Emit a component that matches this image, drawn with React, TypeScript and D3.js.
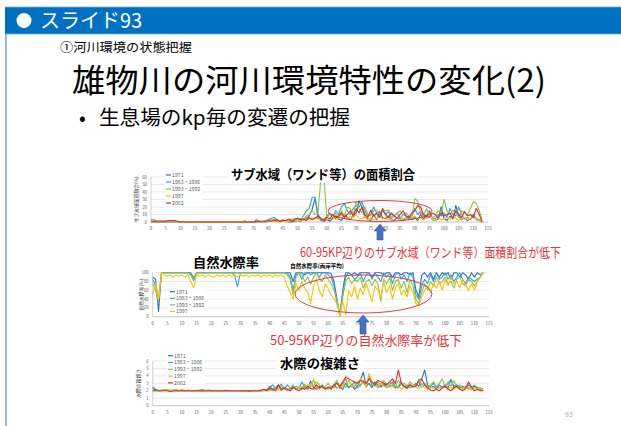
import * as d3 from 'd3';

const FONT = "'Noto Sans CJK JP', 'Noto Sans', sans-serif";

const KP_TICKS = [0, 5, 10, 15, 20, 25, 30, 35, 40, 45, 50, 55, 60, 65, 70, 75, 80, 85, 90, 95, 100, 105, 110, 115];
const SUB_TICKS = [0, 10, 20, 30, 40, 50, 60];
const NAT_TICKS = [0, 20, 40, 60, 80, 100];
const CPX_TICKS = [0, 1, 2, 3, 4, 5, 6];

const YEARS = ['1971', '1983・1986', '1993・1992', '1997', '2002'];
const YEAR_COLORS = ['#2f6fbd', '#2fa3e3', '#8cc63f', '#ffc000', '#e8262a'];

// サブ水域面積割合(%) kp 0..113
const sub1971 = [
  0, 0, 0, 0, 0, 0, 0, 0, 0, 0,
  0, 0, 0, 0, 0, 0, 0, 0, 0, 0,
  0, 0, 0, 0, 0, 0, 0, 0, 0, 0,
  0, 0, 0, 0, 0, 0, 0, 0, 1, 0,
  1, 2, 3, 1, 0, 2, 1, 0, 0, 1,
  2, 1, 3, 5, 8, 17, 32, 5, 2, 1,
  3, 1, 5, 8, 4, 2, 10, 6, 3, 8,
  12, 28, 20, 6, 4, 2, 10, 3, 14, 6,
  4, 8, 3, 2, 6, 4, 2, 5, 8, 3,
  6, 2, 10, 4, 8, 15, 3, 2, 4, 20,
  5, 2, 8, 4, 22, 8, 3, 6, 2, 4,
  10, 3, 2, 0,
];
const sub1983 = [
  3, 3, 1, 1, 1, 1, 1, 1, 1, 0,
  0, 0, 0, 0, 0, 0, 0, 0, 0, 0,
  0, 0, 0, 0, 0, 0, 0, 0, 0, 0,
  0, 0, 0, 0, 0, 0, 3, 1, 1, 2,
  3, 5, 6, 3, 1, 3, 1, 2, 4, 2,
  5, 3, 8, 15, 18, 33, 33, 10, 5, 3,
  8, 12, 6, 15, 10, 20, 25, 15, 10, 18,
  22, 20, 27, 15, 8, 10, 20, 12, 6, 15,
  10, 14, 6, 8, 12, 5, 10, 8, 4, 8,
  18, 10, 14, 8, 5, 10, 6, 4, 10, 8,
  12, 6, 18, 10, 8, 20, 10, 4, 6, 3,
  8, 5, 3, 0,
];
const sub1993 = [
  1, 1, 1, 1, 1, 1, 1, 1, 1, 0,
  0, 0, 0, 0, 0, 0, 0, 0, 0, 0,
  0, 0, 0, 0, 0, 0, 0, 0, 0, 0,
  0, 0, 2, 0, 0, 0, 1, 1, 1, 2,
  2, 3, 2, 2, 1, 3, 1, 3, 2, 5,
  3, 5, 4, 8, 10, 15, 10, 12, 60, 58,
  6, 10, 8, 12, 5, 15, 8, 20, 18, 10,
  27, 18, 12, 20, 10, 8, 15, 16, 10, 16,
  15, 16, 10, 8, 12, 15, 10, 12, 8, 6,
  31, 28, 12, 8, 18, 10, 6, 8, 15, 10,
  30, 15, 10, 16, 12, 6, 15, 12, 10, 18,
  27, 25, 15, 3,
];
const sub1997 = [
  1, 1, 1, 1, 1, 1, 2, 2, 2, 0,
  0, 0, 0, 0, 0, 0, 0, 0, 0, 0,
  0, 0, 0, 0, 0, 0, 0, 0, 0, 0,
  0, 0, 0, 0, 0, 0, 1, 0, 1, 1,
  1, 2, 1, 0, 1, 2, 1, 1, 3, 2,
  2, 3, 2, 4, 3, 5, 6, 4, 3, 5,
  2, 5, 8, 3, 6, 10, 5, 4, 8, 6,
  10, 5, 4, 8, 2, 6, 3, 5, 8, 4,
  6, 3, 4, 8, 5, 2, 6, 4, 3, 5,
  8, 4, 6, 3, 5, 10, 4, 2, 6, 3,
  4, 6, 3, 8, 5, 2, 4, 6, 3, 5,
  6, 4, 2, 0,
];
const sub2002 = [
  1, 1, 1, 1, 1, 1, 2, 2, 2, 1,
  0, 0, 0, 0, 0, 0, 0, 0, 0, 0,
  0, 0, 0, 0, 0, 0, 0, 0, 0, 0,
  0, 0, 0, 0, 0, 0, 1, 1, 0, 1,
  2, 1, 2, 3, 1, 2, 2, 4, 1, 3,
  5, 3, 4, 2, 6, 3, 5, 8, 4, 2,
  6, 4, 10, 5, 8, 12, 6, 10, 15, 8,
  18, 12, 20, 10, 6, 16, 8, 12, 6, 18,
  10, 6, 12, 8, 5, 10, 15, 8, 6, 12,
  15, 22, 20, 10, 8, 6, 12, 10, 5, 12,
  8, 10, 12, 5, 15, 10, 6, 14, 8, 10,
  6, 18, 10, 0,
];

// 自然水際率(%) kp 0..113
const nat1971 = [
  90, 85, 12, 100, 100, 100, 100, 100, 100, 100,
  100, 100, 100, 100, 88, 100, 100, 100, 100, 100,
  100, 100, 100, 100, 100, 100, 100, 100, 100, 100,
  100, 100, 100, 100, 100, 100, 100, 100, 100, 100,
  100, 100, 100, 100, 100, 100, 100, 100, 80, 100,
  100, 100, 95, 100, 100, 100, 100, 100, 100, 100,
  100, 98, 80, 40, 2, 60, 100, 100, 95, 100,
  95, 100, 100, 100, 100, 90, 100, 100, 100, 95,
  100, 100, 90, 100, 100, 95, 100, 100, 95, 100,
  60, 45, 95, 100, 90, 100, 85, 100, 90, 100,
  95, 100, 85, 100, 100, 90, 100, 95, 85, 100,
  90, 100, 95, 100,
];
const nat1983 = [
  85, 70, 40, 100, 100, 100, 100, 100, 100, 100,
  100, 100, 100, 95, 82, 100, 100, 100, 100, 100,
  100, 100, 100, 100, 100, 100, 100, 100, 95, 68,
  100, 100, 100, 100, 100, 100, 100, 100, 100, 100,
  100, 100, 100, 100, 100, 100, 100, 90, 60, 95,
  100, 85, 100, 100, 95, 100, 100, 90, 100, 100,
  95, 90, 70, 30, 5, 50, 90, 100, 95, 85,
  90, 100, 80, 95, 100, 85, 100, 90, 80, 100,
  90, 100, 75, 95, 100, 85, 95, 80, 100, 90,
  50, 40, 70, 85, 75, 95, 80, 100, 85, 90,
  100, 85, 95, 80, 90, 100, 85, 75, 90, 85,
  80, 85, 90, 100,
];
const nat1993 = [
  75, 60, 35, 100, 100, 100, 100, 100, 100, 100,
  100, 100, 100, 95, 85, 100, 100, 100, 100, 100,
  100, 100, 100, 100, 100, 100, 100, 100, 100, 100,
  100, 100, 100, 100, 100, 100, 100, 100, 100, 100,
  100, 100, 100, 100, 100, 100, 95, 85, 50, 90,
  100, 95, 80, 90, 75, 90, 100, 85, 80, 95,
  85, 75, 60, 40, 3, 45, 80, 90, 75, 85,
  80, 90, 65, 80, 85, 70, 85, 75, 35, 85,
  75, 90, 60, 80, 85, 65, 80, 55, 85, 70,
  40, 30, 55, 75, 60, 80, 70, 90, 75, 80,
  90, 75, 80, 65, 85, 90, 75, 70, 85, 80,
  70, 80, 90, 100,
];
const nat1997 = [
  50, 75, 40, 100, 95, 92, 95, 90, 95, 92,
  95, 90, 95, 80, 65, 95, 92, 95, 90, 95,
  92, 90, 95, 92, 95, 90, 95, 92, 95, 90,
  95, 92, 95, 90, 95, 92, 95, 90, 95, 92,
  95, 90, 95, 92, 95, 90, 70, 55, 40, 75,
  60, 80, 65, 55, 30, 70, 85, 60, 45, 75,
  65, 50, 40, 30, 0, 35, 5, 60, 45, 70,
  40, 65, 50, 75, 55, 35, 70, 60, 45, 80,
  55, 70, 40, 65, 75, 50, 60, 45, 70, 55,
  30, 25, 45, 60, 70, 55, 75, 65, 80, 60,
  85, 70, 90, 75, 80, 65, 85, 70, 60, 75,
  60, 80, 90, 100,
];

// 水際の複雑さ kp 0..113
const cpx1971 = [
  2.5, 2.2, 2.0, 2.0, 2.0, 2.1, 2.0, 2.0, 2.0, 2.0,
  2.0, 2.0, 2.0, 2.0, 2.0, 2.0, 2.0, 2.0, 2.0, 2.0,
  2.0, 2.0, 2.0, 2.0, 2.0, 2.0, 2.0, 2.0, 2.0, 2.0,
  2.0, 2.0, 2.0, 1.9, 2.0, 2.0, 2.0, 2.0, 2.1, 2.0,
  2.6, 2.2, 2.4, 2.8, 2.2, 2.5, 2.1, 2.3, 2.6, 2.2,
  2.4, 2.2, 2.8, 2.3, 3.3, 2.4, 2.2, 2.6, 2.4, 2.3,
  2.5, 2.2, 2.8, 2.4, 2.6, 2.2, 3.0, 2.4, 2.8, 2.2,
  2.6, 3.4, 4.5, 2.6, 3.0, 2.4, 3.2, 2.8, 2.5, 3.0,
  2.4, 2.8, 3.2, 2.6, 2.4, 3.0, 2.5, 2.3, 2.8, 2.6,
  3.0, 2.6, 3.6, 4.8, 2.8, 2.4, 2.6, 2.3, 2.8, 2.5,
  2.8, 2.4, 3.5, 2.6, 2.8, 2.4, 2.6, 2.3, 2.8, 2.5,
  2.6, 2.4, 2.2, 2.0,
];
const cpx1983 = [
  2.3, 2.1, 2.0, 2.0, 2.1, 2.0, 2.0, 2.1, 2.0, 2.0,
  2.1, 2.0, 2.0, 2.0, 2.0, 2.0, 2.0, 2.0, 2.0, 2.1,
  2.0, 2.0, 2.0, 2.0, 2.0, 2.0, 2.0, 2.0, 2.0, 2.0,
  2.0, 1.9, 2.0, 2.0, 2.0, 2.0, 2.0, 2.1, 2.0, 2.2,
  2.4, 2.8, 2.3, 2.5, 2.9, 2.2, 2.8, 2.4, 2.3, 2.6,
  2.3, 3.2, 2.4, 2.2, 2.6, 3.4, 2.5, 2.3, 2.8, 2.4,
  2.2, 2.6, 2.4, 3.1, 2.3, 2.8, 3.6, 2.5, 2.6, 3.2,
  2.4, 2.8, 3.2, 2.5, 4.2, 2.6, 3.0, 2.4, 2.8, 2.6,
  3.0, 2.5, 2.8, 2.4, 2.6, 3.2, 2.5, 2.8, 2.4, 2.6,
  2.8, 3.2, 2.5, 2.8, 2.4, 2.6, 3.0, 2.5, 2.4, 2.6,
  2.5, 3.0, 3.5, 2.4, 2.8, 2.5, 2.3, 2.6, 2.4, 2.2,
  2.5, 2.3, 2.4, 2.2,
];
const cpx1993 = [
  2.1, 2.0, 2.0, 2.1, 2.0, 2.0, 2.1, 2.0, 2.2, 2.0,
  2.0, 2.0, 2.1, 2.0, 2.0, 2.0, 2.1, 2.2, 2.0, 2.0,
  2.0, 2.0, 2.0, 2.0, 2.0, 2.1, 2.0, 2.0, 2.0, 2.0,
  2.0, 2.0, 2.0, 2.0, 2.0, 2.0, 2.0, 2.0, 2.0, 2.1,
  2.2, 2.0, 2.4, 2.2, 2.6, 2.3, 2.0, 2.4, 2.8, 2.3,
  2.5, 2.2, 2.8, 2.4, 3.0, 2.6, 3.2, 2.8, 2.4, 2.6,
  3.0, 2.5, 2.8, 3.4, 2.6, 3.0, 2.4, 3.4, 2.8, 2.5,
  3.2, 2.6, 3.4, 2.8, 3.8, 3.0, 2.6, 3.2, 2.8, 3.4,
  2.8, 3.2, 3.0, 2.6, 3.4, 2.8, 3.0, 2.5, 3.2, 2.8,
  2.6, 3.6, 2.8, 3.0, 2.5, 2.8, 3.2, 2.6, 3.0, 3.6,
  2.4, 3.2, 2.6, 3.4, 2.5, 2.8, 2.4, 2.6, 2.2, 2.5,
  2.8, 2.5, 2.3, 2.2,
];
const cpx1997 = [
  2.0, 2.0, 2.1, 2.0, 2.0, 2.2, 2.0, 2.0, 2.1, 2.0,
  2.2, 2.0, 2.0, 2.0, 2.0, 2.0, 2.0, 2.0, 2.0, 2.0,
  2.0, 2.0, 2.0, 2.0, 2.0, 2.0, 2.0, 2.0, 2.0, 2.0,
  2.0, 2.0, 2.0, 2.0, 2.0, 2.0, 2.0, 2.0, 2.0, 2.0,
  2.0, 2.2, 2.0, 2.3, 2.1, 2.4, 2.2, 2.0, 2.5, 2.2,
  2.3, 2.6, 2.2, 2.8, 2.4, 3.6, 2.5, 2.2, 2.6, 2.3,
  2.4, 2.2, 2.6, 2.3, 2.8, 2.4, 4.0, 3.6, 2.5, 2.8,
  3.0, 3.6, 3.0, 2.6, 4.3, 3.2, 2.8, 2.5, 3.0, 2.6,
  2.4, 2.8, 2.5, 2.3, 2.6, 2.2, 2.5, 2.3, 2.6, 2.8,
  2.5, 2.3, 2.6, 2.4, 2.2, 2.5, 2.3, 2.2, 2.4, 2.3,
  2.6, 2.3, 2.5, 2.2, 2.4, 2.3, 2.2, 2.5, 2.3, 2.2,
  2.4, 2.2, 2.3, 2.1,
];
const cpx2002 = [
  2.0, 2.0, 2.0, 2.0, 2.1, 2.0, 1.9, 2.0, 2.0, 2.0,
  2.0, 2.0, 2.0, 2.0, 2.0, 2.0, 2.0, 2.0, 2.0, 2.0,
  2.0, 2.0, 2.0, 2.0, 2.0, 2.0, 2.0, 2.0, 2.0, 2.0,
  2.0, 2.0, 2.0, 2.0, 2.0, 2.0, 2.0, 2.0, 2.2, 2.0,
  2.3, 2.2, 2.0, 2.8, 2.1, 2.4, 2.2, 2.0, 2.5, 2.2,
  2.0, 2.4, 2.2, 2.6, 2.3, 2.2, 2.8, 2.4, 2.6, 2.2,
  2.5, 2.3, 2.8, 3.0, 2.6, 3.2, 3.8, 3.6, 3.4, 3.2,
  3.0, 3.4, 3.2, 3.0, 3.6, 3.2, 2.8, 3.4, 3.2, 3.0,
  2.8, 3.2, 3.6, 3.0, 4.8, 3.0, 2.6, 2.4, 2.8, 2.5,
  2.6, 3.4, 3.6, 2.8, 2.4, 2.1, 2.0, 2.2, 2.0, 2.4,
  2.6, 2.2, 2.0, 2.4, 2.6, 2.2, 2.0, 2.3, 3.2, 2.5,
  2.0, 2.2, 2.0, 2.0,
];

type Box = { left: number; right: number; top: number; bottom: number };
type LegendPos = { x: number; y: number; step: number };

function LineChart({
  box, yMax, yTicks, series, legend, yLabel, yLabelX, title, titleY, titleX, titleW,
}: {
  box: Box;
  yMax: number;
  yTicks: number[];
  series: number[][];
  legend: LegendPos;
  yLabel: string;
  yLabelX: number;
  title?: string;
  titleX?: number;
  titleY?: number;
  titleW?: number;
}) {
  const x = d3.scaleLinear().domain([0, 115]).range([box.left, box.right]);
  const y = d3.scaleLinear().domain([0, yMax]).range([box.bottom, box.top]);
  const line = d3
    .line<number>()
    .x((_, i) => x(i))
    .y((d) => y(Math.min(d, yMax)));
  const midY = (box.top + box.bottom) / 2;

  return (
    <g fontFamily={FONT}>
      {yTicks.map((t) => (
        <line key={'g' + t} x1={box.left} x2={box.right} y1={y(t)} y2={y(t)} stroke="#d9d9d9" strokeWidth={0.6} />
      ))}
      <line x1={box.left} x2={box.left} y1={box.top} y2={box.bottom} stroke="#bfbfbf" strokeWidth={0.7} />
      <line x1={box.left} x2={box.right} y1={box.bottom} y2={box.bottom} stroke="#bfbfbf" strokeWidth={0.7} />
      {yTicks.map((t) => (
        <text key={'y' + t} x={box.left - 4} y={y(t) + 1.5} textAnchor="end" fontSize={4.3} fill="#595959">
          {t}
        </text>
      ))}
      {KP_TICKS.map((t) => (
        <text key={'x' + t} x={x(t)} y={box.bottom + 8} textAnchor="middle" fontSize={4.3} fill="#595959">
          {t}
        </text>
      ))}
      <text
        transform={`translate(${yLabelX},${midY}) rotate(-90)`}
        textAnchor="middle"
        fontSize={4.8}
        fill="#404040"
      >
        {yLabel}
      </text>
      {series.map((vals, i) => (
        <path key={i} d={line(vals) || ''} fill="none" stroke={YEAR_COLORS[i]} strokeWidth={1.1} strokeLinejoin="round" />
      ))}
      <rect
        x={legend.x - 1}
        y={legend.y - legend.step / 2}
        width={38}
        height={legend.step * series.length}
        fill="#fff"
      />
      {series.map((_, i) => (
        <g key={'l' + i}>
          <line
            x1={legend.x}
            x2={legend.x + 5}
            y1={legend.y + i * legend.step}
            y2={legend.y + i * legend.step}
            stroke={YEAR_COLORS[i]}
            strokeWidth={1.2}
          />
          <text x={legend.x + 6} y={legend.y + i * legend.step + 1.8} fontSize={5.2} fill="#595959">
            {YEARS[i]}
          </text>
        </g>
      ))}
      {title && (
        <g>
          <rect x={titleX! - titleW! / 2 - 3} y={titleY! - 9} width={titleW! + 6} height={17} fill="#fff" />
          <text
            x={titleX}
            y={titleY! + 4.5}
            textAnchor="middle"
            fontSize={13}
            fontWeight="bold"
            fill="#000"
            textLength={titleW}
            lengthAdjust="spacingAndGlyphs"
          >
            {title}
          </text>
        </g>
      )}
    </g>
  );
}

function UpArrow({ cx, tip, base }: { cx: number; tip: number; base: number }) {
  const head = 7;
  const hw = 6;
  const sw = 3;
  const d = `M${cx},${tip} L${cx + hw},${tip + head} L${cx + sw},${tip + head} L${cx + sw},${base} L${cx - sw},${base} L${cx - sw},${tip + head} L${cx - hw},${tip + head} Z`;
  return <path d={d} fill="#4472c4" stroke="#2f528f" strokeWidth={0.6} />;
}

export default function App() {
  const red = '#e8353a';
  return (
    <svg
      width={621}
      height={426}
      viewBox="0 0 621 426"
      style={{ position: 'absolute', left: 0, top: 0, background: '#fff' }}
      fontFamily={FONT}
    >
      <rect x={0} y={0} width={621} height={426} fill="#fff" />
      {/* header */}
      <rect x={5} y={7} width={616} height={27} fill="#0070c0" />
      <line x1={5} x2={621} y1={7} y2={7} stroke="#6fb3e6" strokeWidth={0.8} />
      <line x1={5} x2={621} y1={34} y2={34} stroke="#6fb3e6" strokeWidth={0.8} />
      <rect x={5} y={34} width={2} height={392} fill="#8ec1ea" />
      <circle cx={24} cy={20.5} r={7.5} fill="#fff" />
      <text x={40} y={27.5} fontSize={20} fill="#fff">スライド93</text>
      <text x={60} y={52} fontSize={12} fill="#000" textLength={132} lengthAdjust="spacingAndGlyphs">①河川環境の状態把握</text>
      <text x={72} y={92} fontSize={32} fill="#000" textLength={474} lengthAdjust="spacingAndGlyphs">雄物川の河川環境特性の変化(2)</text>
      <text x={79} y={125} fontSize={20} fill="#000">•</text>
      <text x={99} y={125} fontSize={20} fill="#000" textLength={251} lengthAdjust="spacingAndGlyphs">生息場のkp毎の変遷の把握</text>

      {/* chart 1 */}
      <LineChart
        box={{ left: 151, right: 488, top: 177, bottom: 222 }}
        yMax={60}
        yTicks={SUB_TICKS}
        series={[sub1971, sub1983, sub1993, sub1997, sub2002]}
        legend={{ x: 166, y: 175, step: 7 }}
        yLabel="サブ水域面積割合(%)"
        yLabelX={138}
        title="サブ水域（ワンド等）の面積割合"
        titleX={323}
        titleY={174.5}
        titleW={184}
      />
      <ellipse cx={380} cy={211} rx={52} ry={10.5} fill="none" stroke="#e8262a" strokeWidth={0.9} />
      <UpArrow cx={380} tip={224} base={240} />
      <text x={300} y={257} fontSize={13} fill={red} textLength={261} lengthAdjust="spacingAndGlyphs">60-95KP辺りのサブ水域（ワンド等）面積割合が低下</text>

      {/* chart 2 */}
      <text x={193} y={267} fontSize={13} fontWeight="bold" fill="#000" textLength={66} lengthAdjust="spacingAndGlyphs">自然水際率</text>
      <text x={317} y={268} fontSize={5.5} fontWeight="bold" textAnchor="middle" fill="#000">自然水際率(両岸平均)</text>
      <LineChart
        box={{ left: 152.7, right: 489, top: 272.7, bottom: 316.7 }}
        yMax={100}
        yTicks={NAT_TICKS}
        series={[nat1971, nat1983, nat1993, nat1997]}
        legend={{ x: 170, y: 291.7, step: 6.6 }}
        yLabel="自然水際率(%)"
        yLabelX={143}
      />
      <ellipse cx={363.5} cy={294} rx={68.5} ry={19} fill="none" stroke="#e8262a" strokeWidth={0.9} />
      <UpArrow cx={363} tip={315} base={334} />
      <text x={270} y={345} fontSize={13} fill={red} textLength={192} lengthAdjust="spacingAndGlyphs">50-95KP辺りの自然水際率が低下</text>

      {/* chart 3 */}
      <LineChart
        box={{ left: 152.7, right: 489, top: 361, bottom: 405.7 }}
        yMax={6}
        yTicks={CPX_TICKS}
        series={[cpx1971, cpx1983, cpx1993, cpx1997, cpx2002]}
        legend={{ x: 168, y: 355.7, step: 6.8 }}
        yLabel="水際の複雑さ"
        yLabelX={140}
        title="水際の複雑さ"
        titleX={320}
        titleY={363}
        titleW={80}
      />
      <text x={569} y={417} fontSize={7} fill="#a6a6a6" textAnchor="middle">93</text>
    </svg>
  );
}
